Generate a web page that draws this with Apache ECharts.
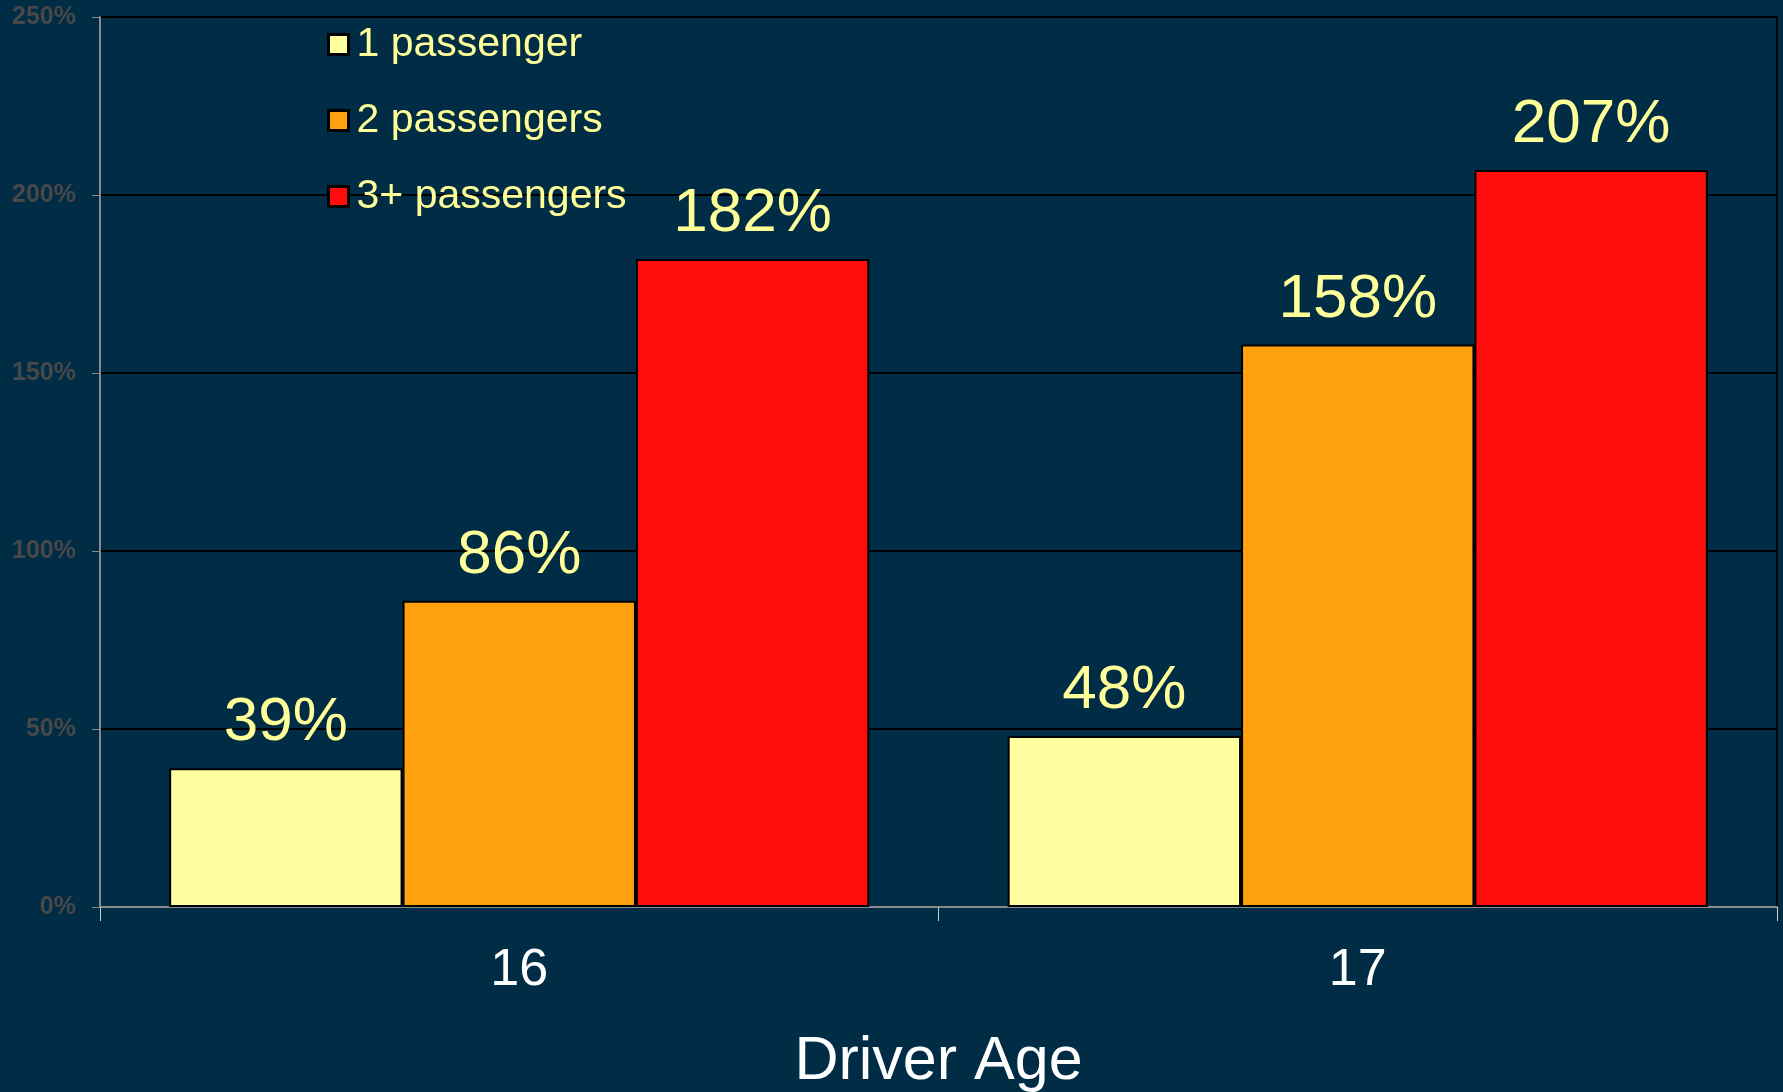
<!DOCTYPE html>
<html lang="en">
<head>
    <meta charset="UTF-8">
    <title>Driver Age</title>
    <script src="https://cdn.jsdelivr.net/npm/echarts@6/dist/echarts.min.js"></script>
    <style>
        html, body { margin: 0; padding: 0; background: #002c45; }
        #chart { width: 1783px; height: 1092px; }
    </style>
</head>
<body>
<div id="chart"></div>
<script>
    // 数据
    var ages = ['16', '17'];
    var onePassenger = [39, 48];
    var twoPassengers = [86, 158];
    var threePassengers = [182, 207];
    var seriesNames = ['1 passenger', '2 passengers', '3+ passengers'];
    var seriesColors = ['#ffffa0', '#ffa10e', '#ff0d0d'];

    var font = '"Liberation Sans", Arial, sans-serif';
    var chart = echarts.init(document.getElementById('chart'));

    function makeSeries(name, values, color) {
        return {
            name: name,
            type: 'bar',
            data: values,
            barGap: '0%',
            barCategoryGap: '16.5%',
            itemStyle: { color: color, borderColor: '#000', borderWidth: 2 },
            label: {
                show: true,
                position: 'top',
                distance: 14,
                formatter: '{c}%',
                color: '#ffff99',
                fontSize: 62,
                fontFamily: font
            }
        };
    }

    var option = {
        backgroundColor: '#002c45',
        animation: false,
        grid: {
            left: 100, right: 6, top: 17, bottom: 185,
            outerBoundsMode: 'none',
            containLabel: false,
            show: true, borderColor: '#000', borderWidth: 2, backgroundColor: 'transparent'
        },
        legend: {
            orient: 'vertical',
            left: 322,
            top: 19,
            itemGap: 35,
            itemWidth: 20,
            itemHeight: 20,
            icon: 'rect',
            itemStyle: { borderColor: '#000', borderWidth: 3 },
            textStyle: { color: '#ffff99', fontSize: 41, fontFamily: font, padding: [0, 0, 0, 3] },
            data: seriesNames
        },
        xAxis: {
            type: 'category',
            data: ages,
            name: 'Driver Age',
            nameLocation: 'middle',
            nameGap: 125,
            nameTextStyle: { color: '#fff', fontSize: 61, fontFamily: font },
            axisLine: { lineStyle: { color: '#8a8a8a', width: 2 } },
            axisTick: { show: true, length: 14, lineStyle: { color: '#cccccc', width: 1 } },
            axisLabel: { color: '#fff', fontSize: 52, fontFamily: font, margin: 38 }
        },
        yAxis: {
            type: 'value',
            min: 0,
            max: 250,
            interval: 50,
            axisLine: { show: true, lineStyle: { color: '#8a8a8a', width: 2 } },
            axisTick: { show: true, length: 8, lineStyle: { color: '#8a8a8a' } },
            axisLabel: { formatter: '{value}%', color: '#484848', fontSize: 25, fontWeight: 'bold', fontFamily: font, margin: 24 },
            splitLine: { lineStyle: { color: '#000', width: 2 } }
        },
        series: [
            makeSeries(seriesNames[0], onePassenger, seriesColors[0]),
            makeSeries(seriesNames[1], twoPassengers, seriesColors[1]),
            makeSeries(seriesNames[2], threePassengers, seriesColors[2])
        ]
    };
    chart.setOption(option);
</script>
</body>
</html>
